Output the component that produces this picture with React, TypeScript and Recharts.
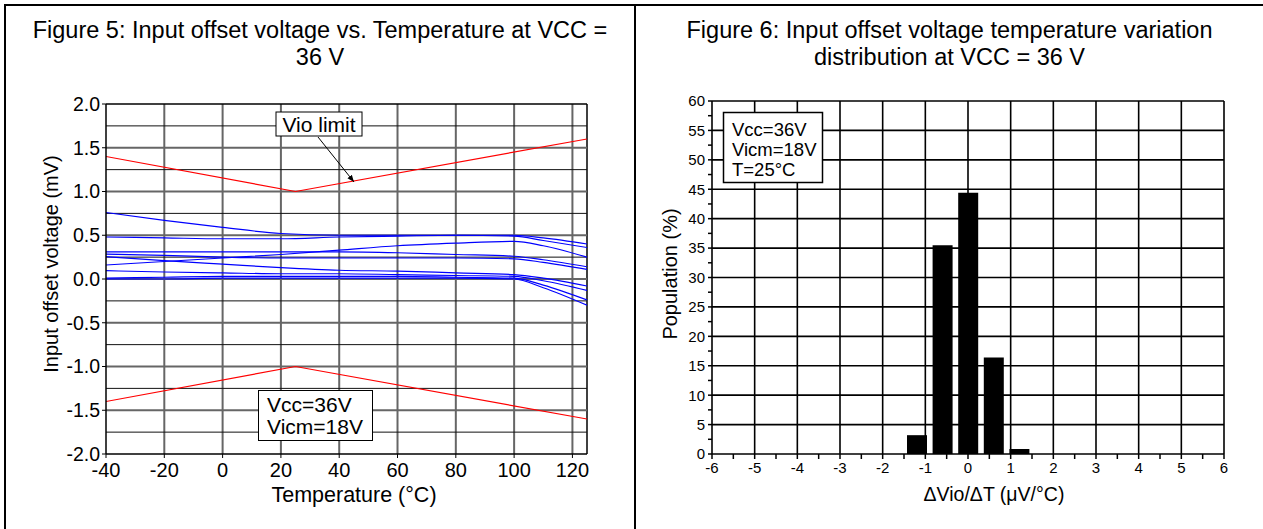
import React from 'react'
import { LineChart, Line, BarChart, Bar, XAxis, YAxis, ReferenceLine } from 'recharts'

// Figure 5: offset voltage (mV) vs temperature, one curve per sample
const temps = [-40, -20, 0, 20, 40, 60, 80, 100, 110, 125]
const vio1 = [0.76, 0.67, 0.59, 0.52, 0.5, 0.5, 0.5, 0.5, 0.47, 0.4]
const vio2 = [0.48, 0.47, 0.46, 0.46, 0.48, 0.49, 0.5, 0.49, 0.44, 0.36]
const vio3 = [0.16, 0.2, 0.24, 0.28, 0.33, 0.38, 0.41, 0.43, 0.38, 0.25]
const vio4 = [0.31, 0.31, 0.31, 0.31, 0.31, 0.3, 0.28, 0.26, 0.22, 0.14]
const vio5 = [0.285, 0.27, 0.25, 0.24, 0.24, 0.24, 0.24, 0.23, 0.19, 0.11]
const vio6 = [0.255, 0.21, 0.17, 0.13, 0.1, 0.09, 0.07, 0.05, 0.01, -0.08]
const vio7 = [0.095, 0.08, 0.07, 0.06, 0.06, 0.05, 0.04, 0.03, -0.02, -0.13]
const vio8 = [0.01, 0.02, 0.03, 0.03, 0.03, 0.03, 0.02, 0.01, -0.07, -0.24]
const vio9 = [0, 0, 0.01, 0.01, 0.01, 0.01, 0.01, 0, -0.1, -0.3]

const limitTemps = [-40, 25, 125]
const limitUpper = [1.4, 1.0, 1.6]
const limitLower = [-1.4, -1.0, -1.6]

const tempTicks = [-40, -20, 0, 20, 40, 60, 80, 100, 120]
const vioTicks = [-2, -1.5, -1, -0.5, 0, 0.5, 1, 1.5, 2]
const vioMinor = [-1.75, -1.25, -0.75, -0.25, 0.25, 0.75, 1.25, 1.75]

// Figure 6: drift histogram
const driftBins = [-1.2, -0.6, 0, 0.6, 1.2]
const population = [3.2, 35.5, 44.4, 16.4, 0.85]
const driftTicks = [-6, -5, -4, -3, -2, -1, 0, 1, 2, 3, 4, 5, 6]
const driftMinor = [-5.5, -4.5, -3.5, -2.5, -1.5, -0.5, 0.5, 1.5, 2.5, 3.5, 4.5, 5.5]
const popTicks = [0, 5, 10, 15, 20, 25, 30, 35, 40, 45, 50, 55, 60]
const popMinor = [2.5, 7.5, 12.5, 17.5, 22.5, 27.5, 32.5, 37.5, 42.5, 47.5, 52.5, 57.5]

const FONT = '"Liberation Sans", Arial, sans-serif'
const curves = [vio1, vio2, vio3, vio4, vio5, vio6, vio7, vio8, vio9]

export default function App() {
  const vioRows = temps.map((t, i) => {
    const row: any = { t }
    curves.forEach((c, k) => (row['c' + (k + 1)] = c[i]))
    return row
  })
  const limitRows = limitTemps.map((t, i) => ({ t, upper: limitUpper[i], lower: limitLower[i] }))
  const driftRows = driftBins.map((x, i) => ({ x, pop: population[i] }))
  const driftAll = [...driftTicks, ...driftMinor].sort((a, b) => a - b)
  const popAll = [...popTicks, ...popMinor].sort((a, b) => a - b)

  const driftTick = (p: any) =>
    driftTicks.includes(p.payload.value) ? (
      <text x={p.x} y={p.y} dy="0.75em" textAnchor="middle" fontSize={15} fill="#000" fontFamily={FONT}>
        {p.payload.value}
      </text>
    ) : (
      <g />
    )
  const popTick = (p: any) =>
    popTicks.includes(p.payload.value) ? (
      <text x={p.x} y={p.y} dy="0.36em" textAnchor="end" fontSize={15} fill="#000" fontFamily={FONT}>
        {p.payload.value}
      </text>
    ) : (
      <g />
    )

  return (
    <div style={{ position: 'absolute', left: 0, top: 0, width: 1263, height: 529, background: '#fff', overflow: 'hidden', fontFamily: FONT }}>
      <div style={{ position: 'absolute', left: 4, top: 4, width: 2, height: 525, background: '#000' }} />
      <div style={{ position: 'absolute', left: 4, top: 4, width: 1259, height: 2, background: '#000' }} />
      <div style={{ position: 'absolute', left: 634, top: 4, width: 2, height: 525, background: '#000' }} />

      <div style={{ position: 'absolute', left: 6, top: 17, width: 628, textAlign: 'center', fontSize: 23.5, lineHeight: '27px', color: '#000' }}>
        Figure 5: Input offset voltage vs. Temperature at VCC =<br />36 V
      </div>
      <div style={{ position: 'absolute', left: 636, top: 17, width: 627, textAlign: 'center', fontSize: 23.5, lineHeight: '27px', color: '#000' }}>
        Figure 6: Input offset voltage temperature variation<br />distribution at VCC = 36 V
      </div>

      <div style={{ position: 'absolute', left: 0, top: 0 }}>
        <LineChart width={636} height={529} data={vioRows} margin={{ top: 104, right: 49, bottom: 45, left: 42 }}>
          {tempTicks.slice(1).concat([125]).map((v) => (
            <ReferenceLine key={'vt' + v} x={v} stroke={v === 125 ? '#000' : '#666'} strokeWidth={v === 125 ? 1.5 : 2} />
          ))}
          {vioMinor.map((v) => (
            <ReferenceLine key={'hm' + v} y={v} stroke="#111" strokeWidth={1} />
          ))}
          {vioTicks.slice(1).map((v) => (
            <ReferenceLine key={'hM' + v} y={v} stroke={v === 2 ? '#000' : '#666'} strokeWidth={v === 2 ? 1.5 : 2} />
          ))}
          <XAxis
            dataKey="t"
            type="number"
            domain={[-40, 125]}
            ticks={tempTicks}
            allowDataOverflow
            height={30}
            tickSize={4}
            tickMargin={5}
            axisLine={{ stroke: '#000', strokeWidth: 1.5 }}
            tickLine={{ stroke: '#000' }}
            tick={{ fill: '#000', fontSize: 20, fontFamily: FONT }}
          />
          <YAxis
            type="number"
            domain={[-2, 2]}
            ticks={vioTicks}
            allowDataOverflow
            width={64}
            tickSize={4}
            tickMargin={2}
            tickFormatter={(v: number) => v.toFixed(1)}
            axisLine={{ stroke: '#000', strokeWidth: 1.5 }}
            tickLine={{ stroke: '#000' }}
            tick={{ fill: '#000', fontSize: 19.5, fontFamily: FONT }}
          />
          {curves.map((_, k) => (
            <Line
              key={'c' + k}
              dataKey={'c' + (k + 1)}
              type="monotone"
              stroke="#0000ff"
              strokeWidth={1.2}
              dot={false}
              isAnimationActive={false}
            />
          ))}
          <Line data={limitRows} dataKey="upper" type="linear" stroke="#ff0000" strokeWidth={1.2} dot={false} isAnimationActive={false} />
          <Line data={limitRows} dataKey="lower" type="linear" stroke="#ff0000" strokeWidth={1.2} dot={false} isAnimationActive={false} />
        </LineChart>
      </div>

      <div style={{ position: 'absolute', left: 636, top: 0 }}>
        <BarChart width={627} height={529} data={driftRows} margin={{ top: 101, right: 39, bottom: 45, left: 40 }}>
          {driftTicks.slice(1).map((v) => (
            <ReferenceLine key={'dx' + v} x={v} stroke="#000" strokeWidth={1.6} />
          ))}
          {popTicks.slice(1).map((v) => (
            <ReferenceLine key={'py' + v} y={v} stroke="#000" strokeWidth={1.6} />
          ))}
          <XAxis
            dataKey="x"
            type="number"
            domain={[-6, 6]}
            ticks={driftAll}
            allowDataOverflow
            interval={0}
            height={30}
            tickSize={5}
            tickMargin={3}
            axisLine={{ stroke: '#000', strokeWidth: 1.6 }}
            tickLine={{ stroke: '#000', strokeWidth: 1.5 }}
            tick={driftTick}
          />
          <YAxis
            type="number"
            domain={[0, 60]}
            ticks={popAll}
            allowDataOverflow
            interval={0}
            width={36}
            tickSize={4}
            tickMargin={3}
            axisLine={{ stroke: '#000', strokeWidth: 1.6 }}
            tickLine={{ stroke: '#000', strokeWidth: 1.5 }}
            tick={popTick}
          />
          <Bar dataKey="pop" fill="#000" barSize={20} isAnimationActive={false} />
        </BarChart>
      </div>

      <svg width={1263} height={529} style={{ position: 'absolute', left: 0, top: 0, pointerEvents: 'none' }} fontFamily={FONT}>
        <defs>
          <marker id="arrowHead" viewBox="0 0 10 10" refX="10" refY="5" markerWidth="7" markerHeight="7" orient="auto">
            <path d="M0,1 L10,5 L0,9 z" fill="#000" />
          </marker>
        </defs>
        <text x={51} y={264} transform="rotate(-90 51 264)" textAnchor="middle" dominantBaseline="central" fontSize={20} fill="#000">
          Input offset voltage (mV)
        </text>
        <text x={354} y={495} textAnchor="middle" dominantBaseline="central" fontSize={21.5} fill="#000">
          Temperature (°C)
        </text>
        <line x1={318} y1={137} x2={354} y2={182} stroke="#000" strokeWidth={1} markerEnd="url(#arrowHead)" />
        <rect x={276} y={112} width={86} height={24} fill="#fff" stroke="#000" strokeWidth={1} />
        <text x={319} y={124.5} textAnchor="middle" dominantBaseline="central" fontSize={21} fill="#000">
          Vio limit
        </text>
        <rect x={258.5} y={390.5} width={114} height={50} fill="#fff" stroke="#000" strokeWidth={1} />
        <text x={267} y={404} dominantBaseline="central" fontSize={21} fill="#000">Vcc=36V</text>
        <text x={267} y={426} dominantBaseline="central" fontSize={21} fill="#000">Vicm=18V</text>

        <text x={670} y={274} transform="rotate(-90 670 274)" textAnchor="middle" dominantBaseline="central" fontSize={20} fill="#000">
          Population (%)
        </text>
        <text x={994} y={494} textAnchor="middle" dominantBaseline="central" fontSize={19.5} fill="#000">
          ΔVio/ΔT (μV/°C)
        </text>
        <rect x={723.5} y={112.5} width={99} height={70} fill="#fff" stroke="#000" strokeWidth={1.5} />
        <text x={732} y={129} dominantBaseline="central" fontSize={18.5} fill="#000">Vcc=36V</text>
        <text x={732} y={149} dominantBaseline="central" fontSize={18.5} fill="#000">Vicm=18V</text>
        <text x={732} y={169} dominantBaseline="central" fontSize={18.5} fill="#000">T=25°C</text>
      </svg>
    </div>
  )
}
